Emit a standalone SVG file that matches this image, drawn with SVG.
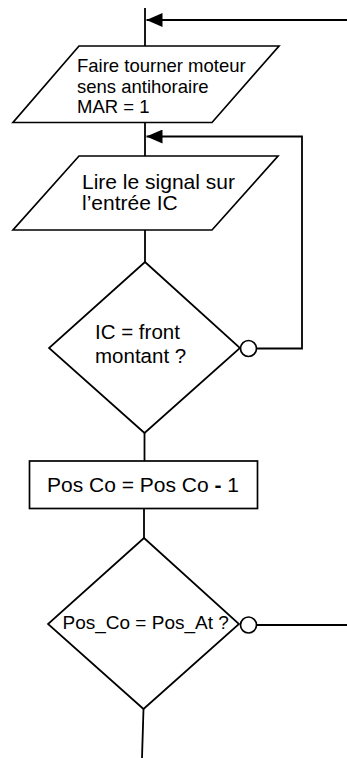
<svg xmlns="http://www.w3.org/2000/svg" width="347" height="758" viewBox="0 0 347 758">
<style>
.shape{fill:#fff;stroke:#000;stroke-width:1.7;stroke-linejoin:miter}
.conn{fill:none;stroke:#000;stroke-width:1.8}
.lbl{font-family:"Liberation Sans",Arial,sans-serif;fill:#000}
.neg{fill:#fff;stroke:#000;stroke-width:1.7}
</style>
<defs>
<marker id="arr" viewBox="0 0 16 14" refX="16" refY="7" markerWidth="16" markerHeight="14" markerUnits="userSpaceOnUse" orient="auto">
<path d="M0,0 L16,7 L0,14 z" fill="#000"/>
</marker>
</defs>
<rect width="347" height="758" fill="#fff"/>
<g id="connectors">
<line class="conn" x1="145" y1="8" x2="145" y2="46"/>
<line class="conn" x1="347" y1="20" x2="146.5" y2="20" marker-end="url(#arr)"/>
<line class="conn" x1="145" y1="123" x2="145" y2="156"/>
<polyline class="conn" points="257,348.5 302,348.5 302,136.5 146.5,136.5" marker-end="url(#arr)"/>
<line class="conn" x1="145" y1="230" x2="145" y2="262"/>
<line class="conn" x1="144.5" y1="433" x2="144.5" y2="461"/>
<line class="conn" x1="144" y1="508" x2="144" y2="538"/>
<line class="conn" x1="256.5" y1="625" x2="347" y2="625"/>
<line class="conn" x1="143.5" y1="709" x2="142" y2="758"/>
</g>
<g id="node-motor">
<polygon class="shape" points="79,46 279,46 212,122.5 13,122.5"/>
<text class="lbl" font-size="18.5"><tspan x="77" y="72">Faire tourner moteur</tspan><tspan x="77" y="92.5">sens antihoraire</tspan><tspan x="77" y="112.5">MAR = 1</tspan></text>
</g>
<g id="node-read">
<polygon class="shape" points="79,156 278,156 212,230 13,230"/>
<text class="lbl" font-size="21"><tspan x="82" y="188.5">Lire le signal sur</tspan><tspan x="82" y="209.5">l’entrée IC</tspan></text>
</g>
<g id="node-front">
<polygon class="shape" points="145,262 240,348 144.5,433 49,348"/>
<circle class="neg" cx="248.5" cy="348.5" r="8"/>
<text class="lbl" font-size="20.5"><tspan x="95" y="338.5">IC = front</tspan><tspan x="95" y="362.5">montant ?</tspan></text>
</g>
<g id="node-dec">
<rect class="shape" x="29.5" y="461" width="228" height="47.5"/>
<text class="lbl" font-size="21" x="47" y="491.5">Pos Co = Pos Co <tspan font-weight="bold">-</tspan> 1</text>
</g>
<g id="node-compare">
<polygon class="shape" points="144,538 239,624 143.5,709 48,624"/>
<circle class="neg" cx="248.5" cy="625" r="8"/>
<text class="lbl" font-size="19" x="62.5" y="628.5">Pos_Co = Pos_At ?</text>
</g>
</svg>
